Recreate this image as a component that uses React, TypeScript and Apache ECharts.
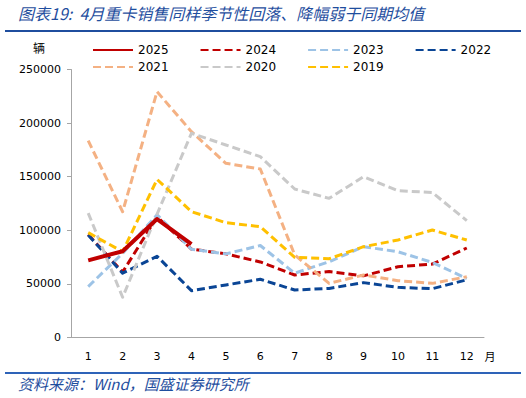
import React, { useEffect, useRef } from "react";
import * as echarts from "echarts";

const months = ["1", "2", "3", "4", "5", "6", "7", "8", "9", "10", "11", "12"];
const s2025 = [72000, 80500, 110500, 87000];
const s2024 = [96000, 61000, 112500, 82500, 78000, 70500, 58300, 61500, 57500, 66000, 68500, 83500];
const s2023 = [47500, 78500, 114500, 82300, 78000, 85800, 60000, 70700, 84700, 80000, 70000, 55000];
const s2022 = [95600, 60000, 75800, 43700, 49000, 54300, 44300, 45800, 51200, 46800, 45500, 53800];
const s2021 = [183600, 117300, 229300, 192000, 162500, 157200, 77000, 50500, 58300, 53000, 50500, 56700];
const s2020 = [116000, 37500, 115000, 190500, 179600, 168700, 138500, 129800, 150000, 137000, 135200, 109000];
const s2019 = [97800, 80000, 147500, 117400, 107100, 103400, 74800, 73500, 84700, 90900, 100300, 90900];
const yTicks = { min: 0, max: 250000, interval: 50000 };

const AXIS_FONT = "'DejaVu Sans', Tahoma, sans-serif";
const CJK_FONT = "'Noto Sans CJK SC', sans-serif";

export default function App() {
  const ref = useRef<HTMLDivElement>(null);
  useEffect(() => {
    if (!ref.current) return;
    const chart = echarts.init(ref.current, undefined, { renderer: "svg" });
    const dash = [8, 4];
    const mk = (name: string, data: number[], color: string, width: number, solid = false) => ({
      name,
      type: "line",
      data,
      symbol: "none",
      z: name === "2025" ? 10 : 2,
      lineStyle: { color, width, type: solid ? "solid" : dash, cap: "butt", join: "round" },
      itemStyle: { color },
    });
    const legendBase = {
      left: 87,
      itemWidth: 40,
      itemHeight: 14,
      itemGap: 31,
      itemStyle: { opacity: 0 },
      textStyle: { fontFamily: AXIS_FONT, fontSize: 12, color: "#000" },
    };
    chart.setOption({
      animation: false,
      backgroundColor: "#ffffff",
      grid: { left: 71, right: 42, top: 69.5, bottom: 60.5, containLabel: false },
      legend: [
        { ...legendBase, data: ["2025", "2024", "2023", "2022"], top: 39 },
        { ...legendBase, data: ["2021", "2020", "2019"], top: 56 },
      ],
      xAxis: {
        type: "category",
        data: months,
        boundaryGap: true,
        axisLine: { lineStyle: { color: "#a6a6a6", width: 1 } },
        axisTick: { show: false },
        axisLabel: { fontFamily: AXIS_FONT, fontSize: 11, color: "#000", margin: 13 },
        splitLine: { show: false },
      },
      yAxis: {
        type: "value",
        min: yTicks.min,
        max: yTicks.max,
        interval: yTicks.interval,
        axisLine: { show: true, lineStyle: { color: "#a6a6a6", width: 1 } },
        axisTick: { show: true, inside: false, length: 4, lineStyle: { color: "#a6a6a6" } },
        axisLabel: {
          fontFamily: AXIS_FONT,
          fontSize: 11,
          color: "#000",
          margin: 10,
          formatter: (v: number) => String(v),
        },
        splitLine: { show: false },
      },
      series: [
        mk("2025", s2025, "#c00000", 4, true),
        mk("2024", s2024, "#c00000", 3),
        mk("2023", s2023, "#9dc3e6", 3),
        mk("2022", s2022, "#0a4595", 3),
        mk("2021", s2021, "#f4b183", 3),
        mk("2020", s2020, "#c9c9c9", 3),
        mk("2019", s2019, "#ffc000", 3),
      ],
      graphic: [
        {
          type: "text",
          left: 18,
          top: 5,
          style: {
            text: "图表19:  4月重卡销售同样季节性回落、降幅弱于同期均值",
            font: `italic 16px ${CJK_FONT}`,
            fill: "#1f4e9e",
          },
        },
        {
          type: "rect",
          shape: { x: 5, y: 30, width: 516, height: 2 },
          style: { fill: "#1f4e9e" },
        },
        {
          type: "text",
          x: 39,
          y: 47,
          style: {
            text: "辆",
            font: `12px ${CJK_FONT}`,
            fill: "#000",
            align: "center",
            verticalAlign: "middle",
          },
        },
        {
          type: "text",
          x: 490,
          y: 356,
          style: {
            text: "月",
            font: `11px ${CJK_FONT}`,
            fill: "#000",
            align: "center",
            verticalAlign: "middle",
          },
        },
        {
          type: "rect",
          shape: { x: 5, y: 372, width: 516, height: 2 },
          style: { fill: "#2e63b8" },
        },
        {
          type: "text",
          left: 18,
          top: 376,
          style: {
            text: "资料来源：Wind，国盛证券研究所",
            font: `italic 15px ${CJK_FONT}`,
            fill: "#1f4e9e",
          },
        },
      ],
    });
    return () => chart.dispose();
  }, []);
  return (
    <div
      ref={ref}
      style={{ position: "fixed", left: 0, top: 0, width: 526, height: 398, background: "#fff" }}
    />
  );
}
